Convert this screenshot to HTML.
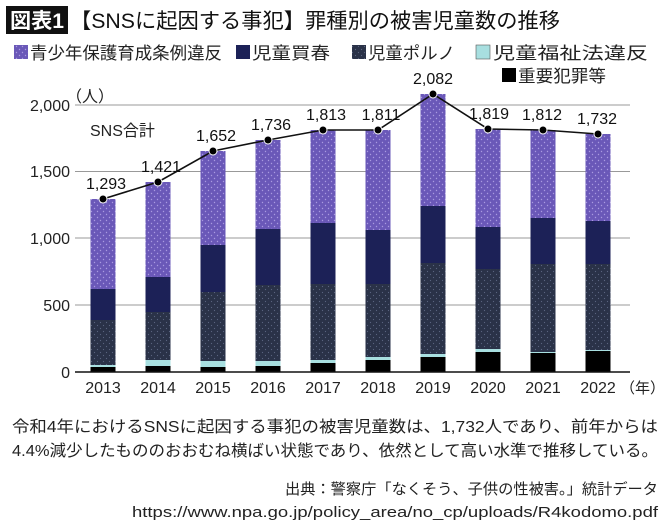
<!DOCTYPE html>
<html><head><meta charset="utf-8"><style>
body{margin:0;background:#fff;width:670px;height:525px;overflow:hidden;font-family:"Liberation Sans","Noto Sans CJK JP",sans-serif;}
</style></head><body>
<svg width="670" height="525" xmlns="http://www.w3.org/2000/svg" font-family="'Liberation Sans','Noto Sans CJK JP',sans-serif">
<defs>
<pattern id="pp" width="6" height="6" patternUnits="userSpaceOnUse"><rect width="6" height="6" fill="#6a58b8"/><circle cx="1.5" cy="1.5" r="0.7" fill="#a99ae0"/><circle cx="4.5" cy="4.5" r="0.7" fill="#a99ae0"/></pattern>
<pattern id="pd" width="6" height="6" patternUnits="userSpaceOnUse"><rect width="6" height="6" fill="#2a3248"/><circle cx="1.5" cy="1.5" r="0.6" fill="#5a6480"/><circle cx="4.5" cy="4.5" r="0.6" fill="#5a6480"/></pattern>
</defs>
<rect x="6" y="6" width="62" height="28" fill="#111"/>
<text x="10" y="28" font-size="21" font-weight="bold" fill="#fff" textLength="54" lengthAdjust="spacingAndGlyphs">図表1</text>
<text x="70" y="28" font-size="21" fill="#111" textLength="490" lengthAdjust="spacingAndGlyphs">【SNSに起因する事犯】罪種別の被害児童数の推移</text>
<g font-size="17" fill="#222">
<rect x="14" y="45" width="14" height="14" fill="url(#pp)"/><text x="30" y="59" textLength="192" lengthAdjust="spacingAndGlyphs">青少年保護育成条例違反</text>
<rect x="236" y="45" width="14" height="14" fill="#1c2157"/><text x="252" y="59" textLength="78" lengthAdjust="spacingAndGlyphs">児童買春</text>
<rect x="352" y="45" width="14" height="14" fill="url(#pd)"/><text x="368" y="59" textLength="87" lengthAdjust="spacingAndGlyphs">児童ポルノ</text>
<rect x="476" y="45" width="14" height="14" fill="#a8dfe0" stroke="#555" stroke-width="0.6"/><text x="493" y="59" textLength="155" lengthAdjust="spacingAndGlyphs">児童福祉法違反</text>
<rect x="502" y="68" width="14" height="14" fill="#000"/><text x="518" y="82" textLength="88" lengthAdjust="spacingAndGlyphs">重要犯罪等</text>
</g>
<text x="66" y="102" font-size="16" fill="#222">（人）</text>
<g stroke="#999" stroke-width="1">
<line x1="75" y1="105" x2="630" y2="105"/><line x1="75" y1="171.5" x2="630" y2="171.5"/><line x1="75" y1="238" x2="630" y2="238"/><line x1="75" y1="305" x2="630" y2="305"/>
</g>
<g font-size="16" fill="#222" text-anchor="end">
<text x="70" y="111">2,000</text><text x="70" y="177">1,500</text><text x="70" y="244">1,000</text><text x="70" y="311">500</text><text x="70" y="378">0</text>
</g>
<g>
<rect x="90.5" y="199" width="25" height="90" fill="url(#pp)"/><rect x="90.5" y="289" width="25" height="31" fill="#1c2157"/><rect x="90.5" y="320" width="25" height="45" fill="url(#pd)"/><rect x="90.5" y="365" width="25" height="2" fill="#a8dfe0"/><rect x="90.5" y="367" width="25" height="5" fill="#000"/>
<rect x="145.5" y="182" width="25" height="95" fill="url(#pp)"/><rect x="145.5" y="277" width="25" height="35" fill="#1c2157"/><rect x="145.5" y="312" width="25" height="48" fill="url(#pd)"/><rect x="145.5" y="360" width="25" height="6" fill="#a8dfe0"/><rect x="145.5" y="366" width="25" height="6" fill="#000"/>
<rect x="200.5" y="151" width="25" height="94" fill="url(#pp)"/><rect x="200.5" y="245" width="25" height="47" fill="#1c2157"/><rect x="200.5" y="292" width="25" height="69" fill="url(#pd)"/><rect x="200.5" y="361" width="25" height="6" fill="#a8dfe0"/><rect x="200.5" y="367" width="25" height="5" fill="#000"/>
<rect x="255.5" y="140" width="25" height="89" fill="url(#pp)"/><rect x="255.5" y="229" width="25" height="56" fill="#1c2157"/><rect x="255.5" y="285" width="25" height="76" fill="url(#pd)"/><rect x="255.5" y="361" width="25" height="5" fill="#a8dfe0"/><rect x="255.5" y="366" width="25" height="6" fill="#000"/>
<rect x="310.5" y="130" width="25" height="93" fill="url(#pp)"/><rect x="310.5" y="223" width="25" height="61" fill="#1c2157"/><rect x="310.5" y="284" width="25" height="76" fill="url(#pd)"/><rect x="310.5" y="360" width="25" height="3" fill="#a8dfe0"/><rect x="310.5" y="363" width="25" height="9" fill="#000"/>
<rect x="365.5" y="130" width="25" height="100" fill="url(#pp)"/><rect x="365.5" y="230" width="25" height="54" fill="#1c2157"/><rect x="365.5" y="284" width="25" height="73" fill="url(#pd)"/><rect x="365.5" y="357" width="25" height="3" fill="#a8dfe0"/><rect x="365.5" y="360" width="25" height="12" fill="#000"/>
<rect x="420.5" y="94" width="25" height="112" fill="url(#pp)"/><rect x="420.5" y="206" width="25" height="57" fill="#1c2157"/><rect x="420.5" y="263" width="25" height="91" fill="url(#pd)"/><rect x="420.5" y="354" width="25" height="3" fill="#a8dfe0"/><rect x="420.5" y="357" width="25" height="15" fill="#000"/>
<rect x="475.5" y="129" width="25" height="98" fill="url(#pp)"/><rect x="475.5" y="227" width="25" height="42" fill="#1c2157"/><rect x="475.5" y="269" width="25" height="80" fill="url(#pd)"/><rect x="475.5" y="349" width="25" height="3" fill="#a8dfe0"/><rect x="475.5" y="352" width="25" height="20" fill="#000"/>
<rect x="530.5" y="130" width="25" height="88" fill="url(#pp)"/><rect x="530.5" y="218" width="25" height="46" fill="#1c2157"/><rect x="530.5" y="264" width="25" height="88" fill="url(#pd)"/><rect x="530.5" y="352" width="25" height="1" fill="#a8dfe0"/><rect x="530.5" y="353" width="25" height="19" fill="#000"/>
<rect x="585.5" y="134" width="25" height="87" fill="url(#pp)"/><rect x="585.5" y="221" width="25" height="43" fill="#1c2157"/><rect x="585.5" y="264" width="25" height="86" fill="url(#pd)"/><rect x="585.5" y="350" width="25" height="1" fill="#a8dfe0"/><rect x="585.5" y="351" width="25" height="21" fill="#000"/>
<polyline points="103,199 158,182 213,151 268,140 323,130 378,130 433,94 488,129 543,130 598,134" fill="none" stroke="#111" stroke-width="1.6"/>
<g fill="#000" stroke="#fff" stroke-width="1">
<circle cx="103" cy="199" r="4"/><circle cx="158" cy="182" r="4"/><circle cx="213" cy="151" r="4"/><circle cx="268" cy="140" r="4"/><circle cx="323" cy="130" r="4"/><circle cx="378" cy="130" r="4"/><circle cx="433" cy="94" r="4"/><circle cx="488" cy="129" r="4"/><circle cx="543" cy="130" r="4"/><circle cx="598" cy="134" r="4"/>
</g>
</g>
<line x1="75" y1="372" x2="630" y2="372" stroke="#111" stroke-width="1.5"/>
<g font-size="16" fill="#222" text-anchor="middle">
<text x="103" y="393">2013</text><text x="158" y="393">2014</text><text x="213" y="393">2015</text><text x="268" y="393">2016</text><text x="323" y="393">2017</text><text x="378" y="393">2018</text><text x="433" y="393">2019</text><text x="488" y="393">2020</text><text x="543" y="393">2021</text><text x="598" y="393">2022</text>
</g>
<text x="620" y="393" font-size="15" fill="#222">（年）</text>
<g font-size="16" fill="#111" text-anchor="middle">
<text x="106" y="189">1,293</text><text x="161" y="172">1,421</text><text x="216" y="141">1,652</text><text x="271" y="130">1,736</text><text x="326" y="120">1,813</text><text x="381" y="120">1,811</text><text x="433" y="84">2,082</text><text x="489" y="119">1,819</text><text x="542" y="120">1,812</text><text x="597" y="124">1,732</text>
</g>
<text x="90" y="136" font-size="16" fill="#222">SNS合計</text>
<g font-size="16" fill="#222">
<text x="12" y="432" textLength="646" lengthAdjust="spacingAndGlyphs">令和4年におけるSNSに起因する事犯の被害児童数は、1,732人であり、前年からは</text>
<text x="12" y="456" textLength="646" lengthAdjust="spacingAndGlyphs">4.4%減少したもののおおむね横ばい状態であり、依然として高い水準で推移している。</text>
</g>
<g font-size="15" fill="#222">
<text x="285" y="494" textLength="373" lengthAdjust="spacingAndGlyphs">出典：警察庁「なくそう、子供の性被害。」統計データ</text>
<text x="132" y="517" textLength="526" lengthAdjust="spacingAndGlyphs">https://www.npa.go.jp/policy_area/no_cp/uploads/R4kodomo.pdf</text>
</g>
</svg>
</body></html>
